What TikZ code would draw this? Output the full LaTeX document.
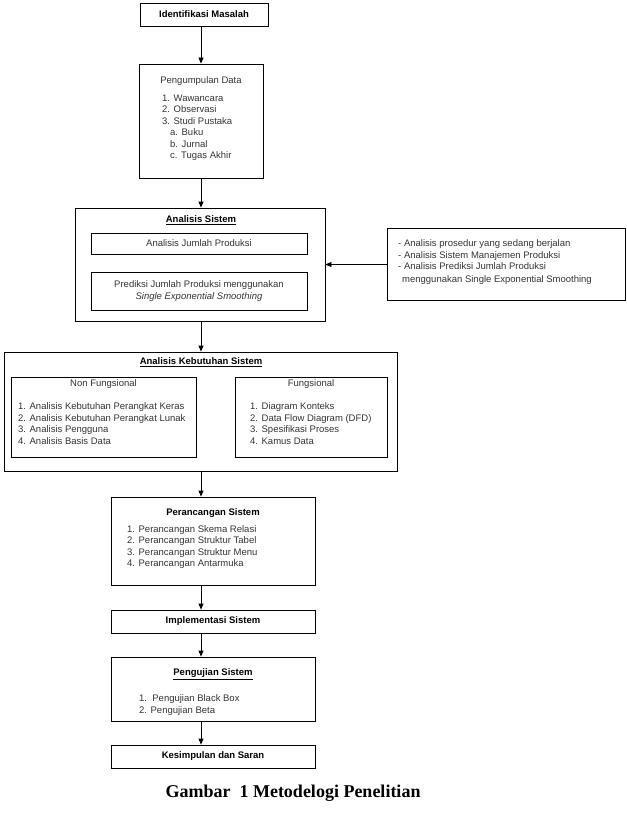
\documentclass[tikz,border=0pt]{standalone}
\usepackage{fontspec}
\setmainfont{Liberation Sans}
\newfontfamily\capfont{Liberation Serif}
\usetikzlibrary{arrows.meta}
\definecolor{txt}{HTML}{333333}
\begin{document}
\begin{tikzpicture}[x=1pt,y=-1pt,
  box/.style={draw, line width=0.8pt, inner sep=0pt},
  arr/.style={-{Triangle[length=6pt,width=5pt]}, line width=0.8pt},
  t/.style={font=\fontsize{9.5}{11.5}\selectfont, text=txt, inner sep=0pt},
  tb/.style={font=\fontsize{9.5}{11.5}\selectfont\bfseries, inner sep=0pt},
  lst/.style={t, align=left, anchor=north west}]
\useasboundingbox (0,0) rectangle (626,821);
\coordinate (ax) at (201,0);

% Identifikasi Masalah
\node[box, minimum width=128, minimum height=23] (b1) at (204,14.5) {};
\node[tb] (t1) at (b1) {Identifikasi Masalah};

% Pengumpulan Data
\node[box, minimum width=124, minimum height=114] (b2) at (201,121) {};
\node[t] (t2) at (201,81) {Pengumpulan Data};
\node[lst] (l2) at (162,94.5) {1. Wawancara\\2. Observasi\\3. Studi Pustaka\\\hspace*{8pt}a. Buku\\\hspace*{8pt}b. Jurnal\\\hspace*{8pt}c. Tugas Akhir};

% Analisis Sistem
\node[box, minimum width=250, minimum height=113] (b3) at (200,264.5) {};
\node[tb] (t3) at (201,220) {\underline{Analisis Sistem}};
\node[box, minimum width=216, minimum height=21] (b3a) at (199,243.5) {};
\node[t] (t3a) at (b3a) {Analisis Jumlah Produksi};
\node[box, minimum width=216, minimum height=38] (b3b) at (199,291) {};
\node[t, align=center] (t3b) at (b3b) {Prediksi Jumlah Produksi menggunakan\\\textit{Single Exponential Smoothing}};

% right note
\node[box, minimum width=238, minimum height=72] (rb) at (506,264.5) {};
\node[lst] (lr) at (398,239.5) {- Analisis prosedur yang sedang berjalan\\- Analisis Sistem Manajemen Produksi\\- Analisis Prediksi Jumlah Produksi\\[1.5pt]\hspace*{4pt}menggunakan Single Exponential Smoothing};

% Analisis Kebutuhan Sistem
\node[box, minimum width=393, minimum height=119] (b4) at (200.5,411.5) {};
\node[tb] (t4) at (201,362) {\underline{Analisis Kebutuhan Sistem}};
\node[box, minimum width=185, minimum height=80] (b4l) at (103.5,417) {};
\node[t] (t4l) at (103.5,384) {Non Fungsional};
\node[lst] (l4l) at (18,402.5) {1. Analisis Kebutuhan Perangkat Keras\\2. Analisis Kebutuhan Perangkat Lunak\\3. Analisis Pengguna\\4. Analisis Basis Data};
\node[box, minimum width=152, minimum height=80] (b4r) at (311,417) {};
\node[t] (t4r) at (311,384) {Fungsional};
\node[lst] (l4r) at (250,402.5) {1. Diagram Konteks\\2. Data Flow Diagram (DFD)\\3. Spesifikasi Proses\\4. Kamus Data};

% Perancangan Sistem
\node[box, minimum width=204, minimum height=88] (b5) at (213,541) {};
\node[tb] (t5) at (213,513) {Perancangan Sistem};
\node[lst] (l5) at (127,525) {1. Perancangan Skema Relasi\\2. Perancangan Struktur Tabel\\3. Perancangan Struktur Menu\\4. Perancangan Antarmuka};

% Implementasi Sistem
\node[box, minimum width=204, minimum height=23] (b6) at (213,621.5) {};
\node[tb] (t6) at (b6) {Implementasi Sistem};

% Pengujian Sistem
\node[box, minimum width=204, minimum height=64] (b7) at (213,689) {};
\node[tb] (t7) at (213,674) {\underline{Pengujian Sistem}};
\node[lst] (l7) at (139,694.5) {1.\ \ Pengujian Black Box\\2. Pengujian Beta};

% Kesimpulan dan Saran
\node[box, minimum width=204, minimum height=23] (b8) at (213,756.5) {};
\node[tb] (t8) at (b8) {Kesimpulan dan Saran};

% caption
\node[inner sep=0pt, font=\capfont\bfseries\fontsize{18}{20}\selectfont] (cap) at (293,793) {Gambar\ \ 1 Metodelogi Penelitian};

% arrows
\draw[arr] (b1.south -| ax) -- (b2.north -| ax);
\draw[arr] (b2.south -| ax) -- (b3.north -| ax);
\draw[arr] (rb.west) -- (b3.east);
\draw[arr] (b3.south -| ax) -- (b4.north -| ax);
\draw[arr] (b4.south -| ax) -- (b5.north -| ax);
\draw[arr] (b5.south -| ax) -- (b6.north -| ax);
\draw[arr] (b6.south -| ax) -- (b7.north -| ax);
\draw[arr] (b7.south -| ax) -- (b8.north -| ax);
\end{tikzpicture}
\end{document}
